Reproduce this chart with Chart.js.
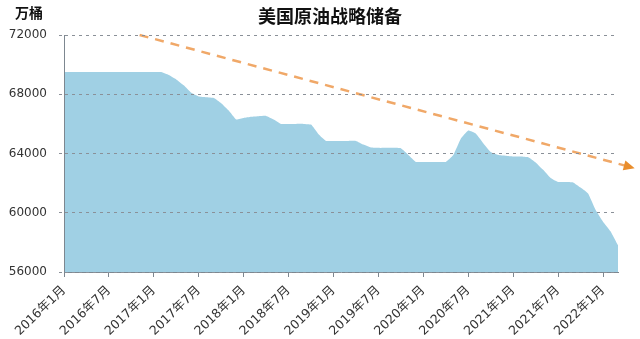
<!DOCTYPE html>
<html><head>
<meta charset="utf-8">
<script src="https://cdn.jsdelivr.net/npm/chart.js"></script>
<style>
  html, body { margin:0; padding:0; background:#fff }
  #wrap { position:relative; width:640px; height:339px }
  #title { position:absolute; left:0; width:660px; top:2px; text-align:center; font:bold 18px 'Noto Sans CJK SC', sans-serif; color:#111 }
  #unit { position:absolute; left:15px; top:2px; font:bold 14px 'Noto Sans CJK SC', sans-serif; color:#111 }
</style>
</head><body>
<div id="wrap">
  <canvas id="chart" width="640" height="339"></canvas>
  <div id="title">美国原油战略储备</div>
  <div id="unit">万桶</div>
</div>
<script>
// monthly SPR level, 2016-01 .. 2022-03 (万桶)
const reserves = [
  69500, 69500, 69500, 69500, 69500, 69500, 69500, 69500, 69500, 69500, 69500, 69500, 69500, 69500,
  69300, 69000, 68600, 68100, 67850, 67800, 67750, 67400, 66900, 66300, 66400, 66480, 66520, 66540,
  66300, 66000, 66000, 66000, 66000, 65950, 65300, 64850, 64850, 64850, 64850, 64850, 64600, 64400,
  64380, 64380, 64380, 64350, 63900, 63430, 63430, 63430, 63430, 63430, 63900, 65000, 65550, 65350,
  64700, 64100, 63900, 63850, 63800, 63800, 63750, 63400, 62900, 62350, 62080, 62080, 62050, 61700,
  61300, 60200, 59400, 58750, 57800
];
const tickLabels = ['2016年1月','2016年7月','2017年1月','2017年7月','2018年1月','2018年7月','2019年1月',
  '2019年7月','2020年1月','2020年7月','2021年1月','2021年7月','2022年1月'];
// dashed trend arrow, in month index / 万桶
const trendX = [10.1, 75.2];
const trendY = [72000, 63150];

const areaPts = reserves.map((v, i) => ({ x: i, y: v }));
const trendPts = trendX.map((x, i) => ({ x, y: trendY[i] }));

// arrow head at the end of the trend line (points are skipped outside the chart area)
const arrowHead = {
  id: 'arrowHead',
  afterDatasetsDraw(chart) {
    const pts = chart.getDatasetMeta(0).data;
    const a = pts[0], b = pts[pts.length - 1];
    const ang = Math.atan2(b.y - a.y, b.x - a.x);
    const ctx = chart.ctx;
    ctx.save();
    ctx.translate(b.x, b.y);
    ctx.rotate(ang);
    ctx.fillStyle = '#e98d2c';
    ctx.beginPath();
    ctx.moveTo(8, 0);
    ctx.lineTo(-3, -5);
    ctx.lineTo(-3, 5);
    ctx.closePath();
    ctx.fill();
    ctx.restore();
  }
};

new Chart(document.getElementById('chart'), {
  type: 'line',
  data: {
    datasets: [
      { data: trendPts, borderColor: '#f0a868', borderWidth: 2.5, borderDash: [9, 7],
        pointRadius: 0, fill: false, clip: false, order: 0 },
      { data: areaPts, borderWidth: 0, borderColor: 'rgba(0,0,0,0)', backgroundColor: 'rgb(160,208,228)',
        fill: 'start', pointRadius: 0, tension: 0.12, order: 1 }
    ]
  },
  options: {
    responsive: false,
    animation: false,
    layout: { padding: { top: 35, right: 22, left: 0, bottom: 0 } },
    plugins: { legend: { display: false }, tooltip: { enabled: false }, title: { display: false } },
    scales: {
      x: {
        type: 'linear', min: 0, max: 74,
        afterFit: s => { s.height = 67; },
        border: { color: '#7d8790', width: 1, z: 1 },
        grid: { drawOnChartArea: false, drawTicks: true, tickLength: 5, color: '#7d8790' },
        ticks: {
          stepSize: 6, includeBounds: false, autoSkip: false, minRotation: 44, maxRotation: 44, padding: 6,
          color: '#333', font: { family: "'DejaVu Sans', 'Noto Sans CJK SC'", size: 12.5 },
          callback: v => tickLabels[v / 6] || ''
        }
      },
      y: {
        min: 56000, max: 72000,
        afterFit: s => { s.width = 64; },
        border: { color: '#7d8790', width: 1, dash: [3, 4], z: 1 },
        grid: { color: '#8a9098', tickLength: 5, tickBorderDash: [3, 4], z: 1 },
        ticks: {
          stepSize: 4000, padding: 12, color: '#333',
          font: { family: "'DejaVu Sans'", size: 12 },
          callback: v => String(v)
        }
      }
    }
  },
  plugins: [arrowHead]
});
</script>
</body></html>
